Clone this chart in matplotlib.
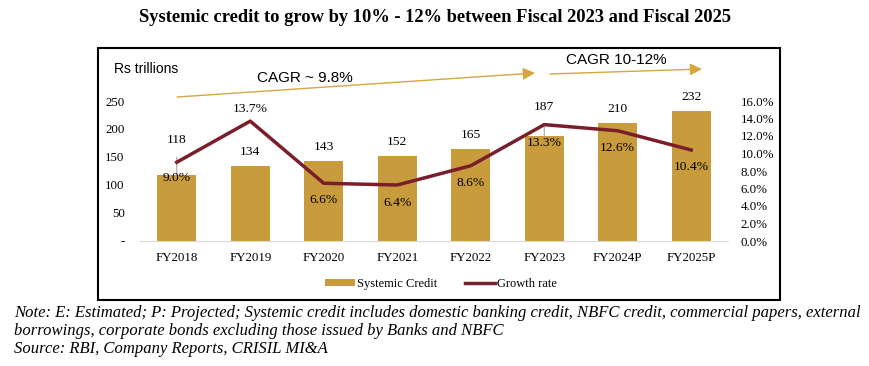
import numpy as np
import matplotlib as mpl
import matplotlib.pyplot as plt
from matplotlib.patches import Rectangle, Patch
from matplotlib.lines import Line2D

# Chart data
years = ['FY2018', 'FY2019', 'FY2020', 'FY2021', 'FY2022', 'FY2023',
         'FY2024P', 'FY2025P']
credit = [118, 134, 143, 152, 165, 187, 210, 232]
growth = [9.0, 13.7, 6.6, 6.4, 8.6, 13.3, 12.6, 10.4]
left_ticks = [0, 50, 100, 150, 200, 250]
right_ticks = [0, 2, 4, 6, 8, 10, 12, 14, 16]

# Label placement (pixels) for bar values and growth labels
bar_lab_dy = [35, 13.5, 13.5, 13.5, 13.5, 29, 14, 14]
growth_lab_dy = [-16, 12, -17, -18, -17, -18, -17, -17]

BAR = '#C89B3C'
LINE = '#7A1E2B'
GOLD = '#D6A640'

mpl.rcParams['font.family'] = 'Liberation Serif'

fig = plt.figure(figsize=(8.7, 3.66), dpi=100)
ax = fig.add_axes([140 / 870, 1 - 241 / 366, 588 / 870, 140 / 366])
ax2 = ax.twinx()

x = np.arange(len(years))
ax.bar(x, credit, width=0.53, color=BAR, zorder=2)
ax.set_xlim(-0.5, len(years) - 0.5)
ax.set_ylim(0, 250)
ax.set_yticks(left_ticks)
ax.set_yticklabels(['-' if t == 0 else str(t) for t in left_ticks])
ax.set_xticks(x)
ax.set_xticklabels(years)
ax.tick_params(axis='both', length=0, labelsize=9.3)
ax.tick_params(axis='y', pad=11)
ax.tick_params(axis='x', pad=8)

for s in ['top', 'left', 'right']:
    ax.spines[s].set_visible(False)
    ax2.spines[s].set_visible(False)
ax2.spines['bottom'].set_visible(False)
ax.spines['bottom'].set_color('#D9D9D9')

# Bar value labels, two of them with leader lines
for i, v in enumerate(credit):
    if bar_lab_dy[i] > 20:
        ax.annotate(str(v), xy=(i, v), xytext=(0, bar_lab_dy[i]),
                    textcoords='offset pixels', ha='center', va='center',
                    fontsize=9.7, zorder=5,
                    arrowprops=dict(arrowstyle='-', color='#A6A6A6', lw=0.8,
                                    shrinkA=6, shrinkB=0))
    else:
        ax.annotate(str(v), xy=(i, v), xytext=(0, bar_lab_dy[i]),
                    textcoords='offset pixels', ha='center', va='center',
                    fontsize=9.7)

# Growth rate line
ax2.plot(x, growth, color=LINE, lw=2.5, zorder=4)
ax2.set_ylim(0, 16)
ax2.set_yticks(right_ticks)
ax2.set_yticklabels(['%.1f%%' % t for t in right_ticks])
ax2.tick_params(axis='y', length=0, labelsize=9.3, pad=9)

for i, g in enumerate(growth):
    ax2.annotate('%.1f%%' % g, xy=(i, g), xytext=(0, growth_lab_dy[i]),
                 textcoords='offset pixels', ha='center', va='center',
                 fontsize=9.7, zorder=6)

# Units label and CAGR arrows
fig.text(114 / 870, 1 - 69 / 366, 'Rs trillions', family='Liberation Sans',
         fontsize=10, ha='left', va='center')
fig.text(305 / 870, 1 - 78 / 366, 'CAGR ~ 9.8%', family='Liberation Sans',
         fontsize=11, ha='center', va='center')
fig.text(616 / 870, 1 - 60 / 366, 'CAGR 10-12%', family='Liberation Sans',
         fontsize=11, ha='center', va='center')
arrow_kw = dict(arrowstyle='-|>,head_length=0.6,head_width=0.3', color=GOLD,
                lw=1.0, shrinkA=0, shrinkB=0)
fig.add_artist(mpl.patches.FancyArrowPatch(
    (177 / 870, 1 - 97 / 366), (535 / 870, 1 - 73 / 366),
    transform=fig.transFigure, mutation_scale=12, **arrow_kw))
fig.add_artist(mpl.patches.FancyArrowPatch(
    (550 / 870, 1 - 74 / 366), (702 / 870, 1 - 69 / 366),
    transform=fig.transFigure, mutation_scale=12, **arrow_kw))

# Legend
handles = [Patch(facecolor=BAR, edgecolor='none'),
           Line2D([], [], color=LINE, lw=2.5)]
fig.legend(handles, ['Systemic Credit', 'Growth rate'], loc='center',
           bbox_to_anchor=(441 / 870, 1 - 284 / 366), ncol=2, frameon=False,
           fontsize=9, handlelength=2.4, handleheight=0.5, columnspacing=2.2,
           handletextpad=0.2)

# Outer frame
fig.add_artist(Rectangle((98 / 870, 1 - 300 / 366), 682 / 870, 252 / 366,
                         transform=fig.transFigure, fill=False,
                         edgecolor='black', lw=1.5))

# Title and notes
fig.text(0.5, 1 - 18 / 366,
         'Systemic credit to grow by 10% - 12% between Fiscal 2023 and Fiscal 2025',
         ha='center', va='center', fontsize=13.3, fontweight='bold')
notes = ['Note: E: Estimated; P: Projected; Systemic credit includes domestic '
         'banking credit, NBFC credit, commercial papers, external',
         'borrowings, corporate bonds excluding those issued by Banks and NBFC',
         'Source: RBI, Company Reports, CRISIL MI&A']
for k, line in enumerate(notes):
    fig.text(14 / 870, 1 - (313 + 18 * k) / 366, line, ha='left',
             va='center', fontsize=12, style='italic')

fig.savefig('out.png', dpi=100)
